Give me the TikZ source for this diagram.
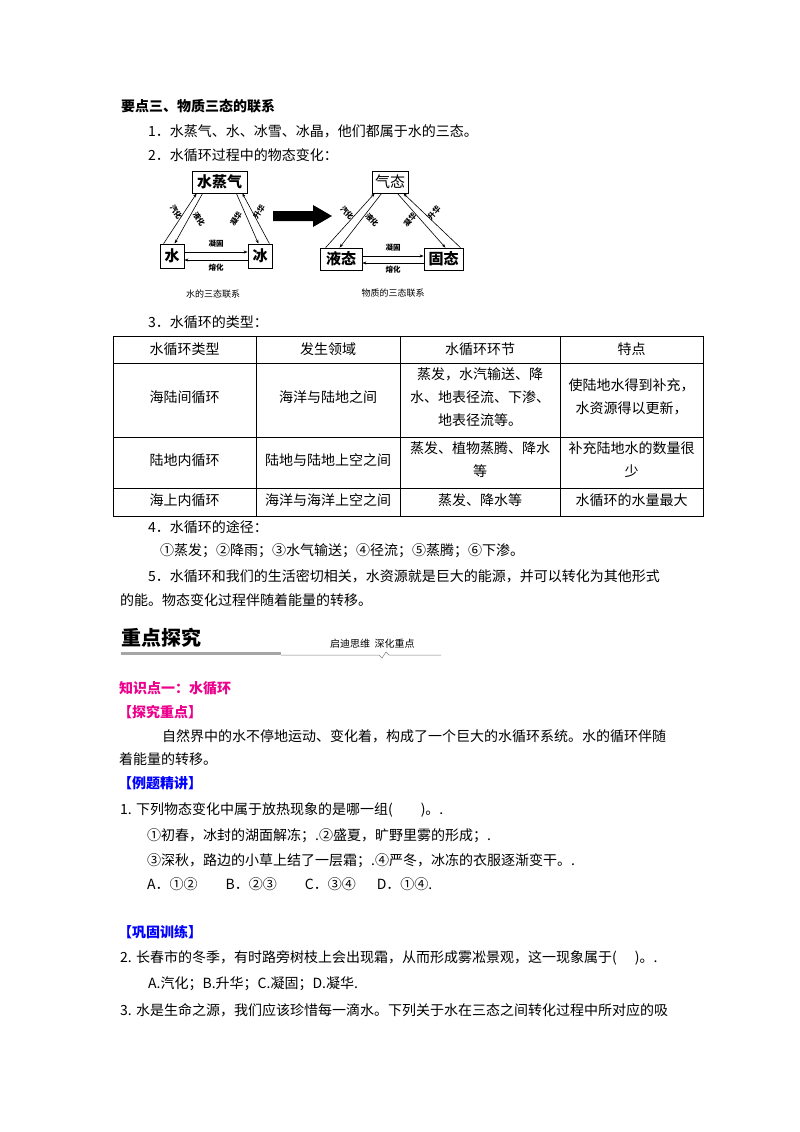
\documentclass[tikz,border=0pt]{standalone}
\usepackage{fontspec}
\setmainfont{Noto Sans CJK SC}
\usetikzlibrary{calc,arrows.meta}
\begin{document}
\begin{tikzpicture}[x=1pt,y=-1pt,
  txt/.style={anchor=west,inner sep=0pt,font=\fontsize{14}{17}\selectfont},
  bld/.style={txt,font=\fontsize{14}{17}\selectfont\bfseries},
  cell/.style={align=center,inner sep=0pt,font=\fontsize{14}{23}\selectfont},
  tiny/.style={inner sep=0pt,font=\fontsize{7.5}{8}\selectfont\bfseries},
  arr/.style={line width=0.6pt,-{Stealth[length=4pt,width=3pt]}},
  captxt/.style={inner sep=0pt,font=\fontsize{9}{10}\selectfont}]
\useasboundingbox (0,0) rectangle (800,1132);
\fill[white] (0,0) rectangle (800,1132);

\node[bld] (h1) at (121,106) {要点三、物质三态的联系};
\node[txt] (t1) at (148,131) {1．水蒸气、水、冰雪、冰晶，他们都属于水的三态。};
\node[txt] (t2) at (148,155) {2．水循环过程中的物态变化：};

% left triangle
\node[draw,line width=0.8pt,minimum width=55pt,minimum height=22pt,inner sep=0pt,font=\fontsize{15}{16}\selectfont\bfseries] (vap) at (219.5,182) {水蒸气};
\node[draw,line width=0.8pt,minimum width=24pt,minimum height=24pt,inner sep=0pt,font=\fontsize{15}{16}\selectfont\bfseries] (wat) at (172,256) {水};
\node[draw,line width=0.8pt,minimum width=24pt,minimum height=24pt,inner sep=0pt,font=\fontsize{15}{16}\selectfont\bfseries] (ice) at (260,256) {冰};
\draw[arr] ($(wat.north west)+(4,0)$) -- ($(vap.south west)+(5,0)$);
\draw[arr] ($(vap.south west)+(11,0)$) -- ($(wat.north west)+(15,0)$);
\draw[arr] ($(ice.north east)+(-3,0)$) -- ($(vap.south east)+(-5,0)$);
\draw[arr] ($(vap.south east)+(-11,0)$) -- ($(ice.north east)+(-14,0)$);
\draw[arr] ($(wat.east)+(0,-4)$) -- ($(ice.west)+(0,-4)$);
\draw[arr] ($(ice.west)+(0,4)$) -- ($(wat.east)+(0,4)$);
\node[tiny,rotate=-57] (l1) at (176,212) {汽化};
\node[tiny,rotate=-57] (l2) at (199,219) {液化};
\node[tiny,rotate=57] (l3) at (236,219) {凝华};
\node[tiny,rotate=57] (l4) at (259,212) {升华};
\node[tiny] (l5) at (216,244) {凝固};
\node[tiny] (l6) at (216,268) {熔化};
\node[captxt] (c1) at (213,294) {水的三态联系};

% big arrow
\fill (273,211) -- (313,211) -- (313,205) -- (332,216) -- (313,227) -- (313,221) -- (273,221) -- cycle;

% right triangle
\node[draw,line width=0.8pt,minimum width=36pt,minimum height=22pt,inner sep=0pt,font=\fontsize{15}{16}\selectfont] (gas) at (390,182) {气态};
\node[draw,line width=0.8pt,minimum width=42pt,minimum height=22pt,inner sep=0pt,font=\fontsize{15}{16}\selectfont\bfseries] (liq) at (341,259) {液态};
\node[draw,line width=0.8pt,minimum width=39pt,minimum height=22pt,inner sep=0pt,font=\fontsize{15}{16}\selectfont\bfseries] (sol) at (443.5,259) {固态};
\draw[arr] ($(liq.north west)+(6,0)$) -- ($(gas.south west)+(3,0)$);
\draw[arr] ($(gas.south west)+(10,0)$) -- ($(liq.north west)+(20,0)$);
\draw[arr] ($(sol.north east)+(-3,0)$) -- ($(gas.south east)+(-5,0)$);
\draw[arr] ($(gas.south east)+(-11,0)$) -- ($(sol.north east)+(-18,0)$);
\draw[arr] ($(liq.east)+(0,-3)$) -- ($(sol.west)+(0,-3)$);
\draw[arr] ($(sol.west)+(0,4)$) -- ($(liq.east)+(0,4)$);
\node[tiny,rotate=-48] (r1) at (347,213) {汽化};
\node[tiny,rotate=-48] (r2) at (372,220) {液化};
\node[tiny,rotate=48] (r3) at (410,220) {凝华};
\node[tiny,rotate=48] (r4) at (434,213) {升华};
\node[tiny] (r5) at (393,248) {凝固};
\node[tiny] (r6) at (393,270) {熔化};
\node[captxt] (c2) at (393,293) {物质的三态联系};

\node[txt] (t3) at (148,322) {3．水循环的类型：};

% table
\draw[line width=0.6pt] (113,336) rectangle (703,516);
\foreach \yy in {363,437,488} \draw[line width=0.6pt] (113,\yy) -- (703,\yy);
\foreach \xx in {256,400,560} \draw[line width=0.6pt] (\xx,336) -- (\xx,516);
\node[cell] (a1) at (184.5,349) {水循环类型};
\node[cell] (a2) at (328,349) {发生领域};
\node[cell] (a3) at (480,349) {水循环环节};
\node[cell] (a4) at (631.5,349) {特点};
\node[cell] (b1) at (184.5,397) {海陆间循环};
\node[cell] (b2) at (328,397) {海洋与陆地之间};
\node[cell] (b3) at (480,397) {蒸发，水汽输送、降\\水、地表径流、下渗、\\地表径流等。};
\node[cell] (b4) at (631.5,397) {使陆地水得到补充，\\水资源得以更新，};
\node[cell] (d1) at (184.5,460) {陆地内循环};
\node[cell] (d2) at (328,460) {陆地与陆地上空之间};
\node[cell] (d3) at (480,460) {蒸发、植物蒸腾、降水\\等};
\node[cell] (d4) at (631.5,460) {补充陆地水的数量很\\少};
\node[cell] (e1) at (184.5,500) {海上内循环};
\node[cell] (e2) at (328,500) {海洋与海洋上空之间};
\node[cell] (e3) at (480,500) {蒸发、降水等};
\node[cell] (e4) at (631.5,500) {水循环的水量最大};

\node[txt] (t4) at (148,527) {4．水循环的途径：};
\node[txt] (t5) at (160,551) {①蒸发；②降雨；③水气输送；④径流；⑤蒸腾；⑥下渗。};
\node[txt] (t6) at (148,576) {5．水循环和我们的生活密切相关，水资源就是巨大的能源，并可以转化为其他形式};
\node[txt] (t7) at (120,600) {的能。物态变化过程伴随着能量的转移。};

% section header
\node[txt,font=\fontsize{20}{22}\selectfont\bfseries] (h2) at (121,638) {重点探究};
\node[txt,font=\fontsize{10}{12}\selectfont] (h3) at (330,644) {启迪思维\ \ 深化重点};
\fill[gray!70] (121,652) rectangle (281,655);
\draw[line width=0.5pt,gray] (281,655) -- (379,655) -- (382,658) -- (386,652) -- (389,655) -- (441,655);

\node[bld,text=magenta] (k1) at (119,688) {知识点一：水循环};
\node[bld,text=magenta] (k2) at (118,712) {【探究重点】};
\node[txt] (k3) at (162,736) {自然界中的水不停地运动、变化着，构成了一个巨大的水循环系统。水的循环伴随};
\node[txt] (k4) at (119,759) {着能量的转移。};
\node[bld,text=blue] (k5) at (118,783) {【例题精讲】};
\node[txt] (q1) at (120,810) {1. 下列物态变化中属于放热现象的是哪一组(\hspace{2em})。.};
\node[txt] (q2) at (147,836) {①初春，冰封的湖面解冻；.②盛夏，旷野里雾的形成；.};
\node[txt] (q3) at (147,861) {③深秋，路边的小草上结了一层霜；.④严冬，冰冻的衣服逐渐变干。.};
\node[txt] (q4) at (147,884) {A．①②\hspace{2em}B．②③\hspace{2em}C．③④\hspace{1.5em}D．①④.};
\node[bld,text=blue] (k6) at (118,932) {【巩固训练】};
\node[txt] (q5) at (120,958) {2. 长春市的冬季，有时路旁树枝上会出现霜，从而形成雾凇景观，这一现象属于(\hspace{1.3em})。.};
\node[txt] (q6) at (148,984) {A.汽化；B.升华；C.凝固；D.凝华.};
\node[txt] (q7) at (120,1010) {3. 水是生命之源，我们应该珍惜每一滴水。下列关于水在三态之间转化过程中所对应的吸};
\end{tikzpicture}
\end{document}
